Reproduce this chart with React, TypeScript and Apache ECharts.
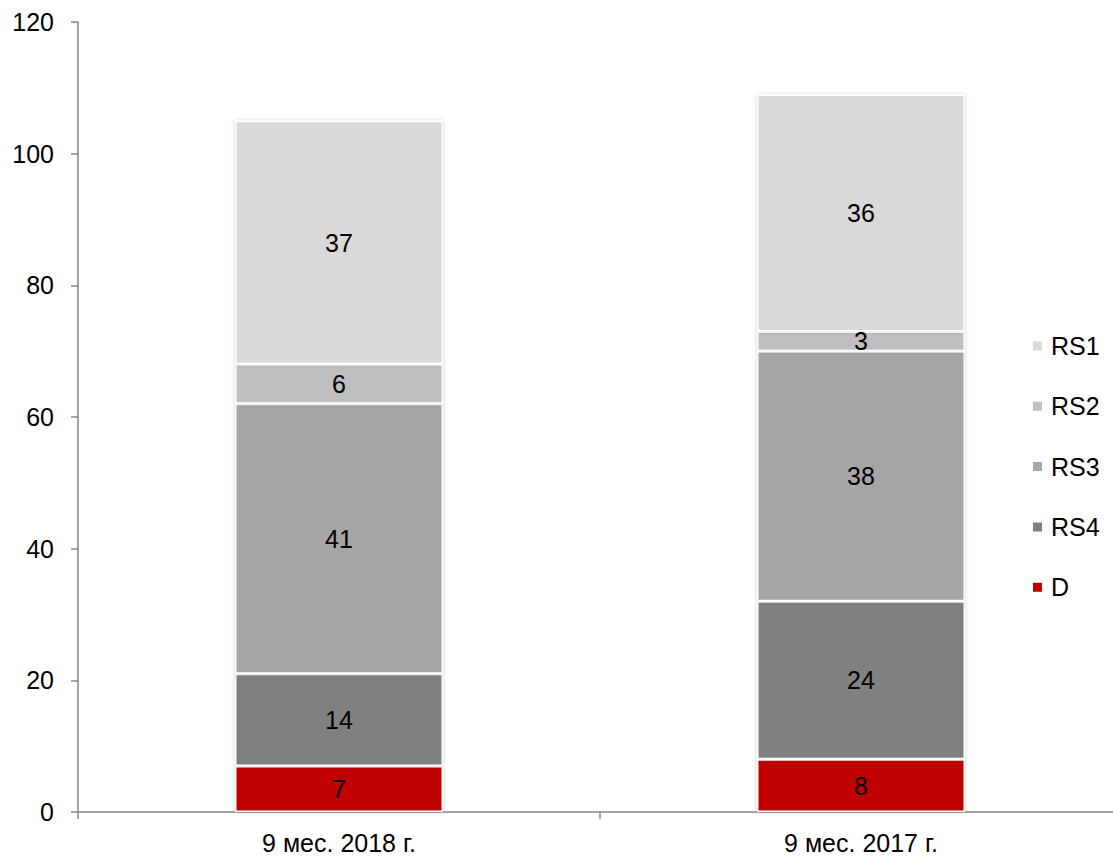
import React, { useEffect, useRef } from "react";
import * as echarts from "echarts";

const categories = ["9 мес. 2018 г.", "9 мес. 2017 г."];
const seriesNames = ["D", "RS4", "RS3", "RS2", "RS1"];
const valuesD = [7, 8];
const valuesRS4 = [14, 24];
const valuesRS3 = [41, 38];
const valuesRS2 = [6, 3];
const valuesRS1 = [37, 36];
const colors = ["#c00000", "#808080", "#a6a6a6", "#bfbfbf", "#d9d9d9"];
const legendOrder = ["RS1", "RS2", "RS3", "RS4", "D"];
const yTicks = { min: 0, max: 120, interval: 20 };

export default function App() {
  const ref = useRef<HTMLDivElement>(null);
  useEffect(() => {
    if (!ref.current) return;
    const chart = echarts.init(ref.current, null, { renderer: "svg" });
    const data = [valuesD, valuesRS4, valuesRS3, valuesRS2, valuesRS1];
    const font = "'Liberation Sans', Arial, sans-serif";
    chart.setOption({
      animation: false,
      textStyle: { fontFamily: font },
      grid: { left: 78, top: 22, bottom: 44, width: 1044, outerBoundsMode: "none", containLabel: false },
      legend: {
        data: legendOrder,
        orient: "vertical",
        left: 1031,
        top: 333,
        padding: 0,
        icon: "rect",
        itemWidth: 11,
        itemHeight: 11,
        itemGap: 34.3,
        textStyle: { fontSize: 25, color: "#000", fontFamily: font, lineHeight: 26, padding: [0, 0, 0, 3] },
        selectedMode: false,
      },
      xAxis: {
        type: "category",
        data: categories,
        axisLine: { lineStyle: { color: "#868686", width: 1.5 } },
        axisTick: { show: true, alignWithLabel: false, length: 7, lineStyle: { color: "#868686", width: 1.5 } },
        axisLabel: { fontSize: 25, lineHeight: 24, color: "#000", margin: 19, fontFamily: font },
      },
      yAxis: {
        type: "value",
        min: yTicks.min,
        max: yTicks.max,
        interval: yTicks.interval,
        splitLine: { show: false },
        axisLine: { show: true, lineStyle: { color: "#868686", width: 1.5 } },
        axisTick: { show: true, length: 7, lineStyle: { color: "#868686", width: 1.5 } },
        axisLabel: { fontSize: 25, color: "#000", margin: 24, fontFamily: font },
      },
      series: seriesNames.map((name, i) => ({
        name,
        type: "bar",
        stack: "total",
        barWidth: 208,
        data: data[i],
        itemStyle: {
          color: colors[i],
          borderColor: "#ffffff",
          borderWidth: 1.5,
          shadowColor: "rgba(0,0,0,0.18)",
          shadowBlur: 4,
        },
        label: {
          show: true,
          position: "inside",
          fontSize: 25,
          color: "#000",
          fontFamily: font,
        },
      })),
    });
    return () => chart.dispose();
  }, []);
  return (
    <div
      ref={ref}
      style={{ position: "absolute", left: 0, top: 0, width: 1113, height: 856 }}
    />
  );
}
